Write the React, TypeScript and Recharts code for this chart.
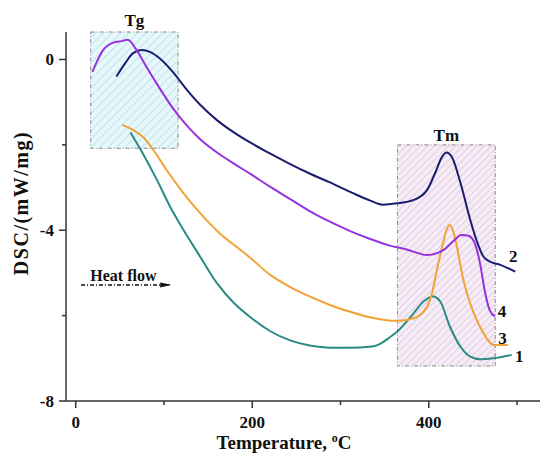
import React from 'react';
import {
  LineChart,
  Line,
  XAxis,
  YAxis,
  ReferenceArea,
  ReferenceLine,
  ReferenceDot,
  Label,
} from 'recharts';

// --- data (temperature °C, DSC mW/mg) ---
const curve1 = [
  [62, -1.71], [76, -2.2], [92, -2.82], [107, -3.45], [122, -3.99], [141, -4.62],
  [160, -5.24], [179, -5.7], [198, -6.04], [220, -6.36], [243, -6.58], [265, -6.7],
  [288, -6.75], [311, -6.75], [333, -6.73], [345, -6.66], [355, -6.52], [364, -6.38],
  [383, -5.94], [394, -5.67], [405, -5.55], [413, -5.67], [424, -6.26], [436, -6.73],
  [447, -6.96], [458, -7.02], [473, -7.0], [494, -6.92],
];
const curve2 = [
  [46, -0.4], [56, -0.09], [65, 0.15], [75, 0.22], [84, 0.18], [95, 0.03],
  [110, -0.29], [126, -0.71], [141, -1.06], [160, -1.42], [180, -1.72], [198, -1.95],
  [220, -2.2], [243, -2.45], [265, -2.67], [288, -2.88], [311, -3.1], [333, -3.3],
  [348, -3.4], [364, -3.37], [383, -3.29], [398, -3.06], [407, -2.67], [415, -2.28],
  [420, -2.18], [426, -2.28], [436, -2.9], [447, -3.76], [454, -4.23], [462, -4.62],
  [470, -4.74], [481, -4.81], [498, -4.97],
];
const curve3 = [
  [53, -1.53], [65, -1.65], [76, -1.81], [88, -2.12], [103, -2.59], [122, -3.13],
  [141, -3.6], [163, -4.07], [186, -4.45], [198, -4.65], [220, -5.04], [243, -5.33],
  [265, -5.55], [288, -5.75], [311, -5.91], [333, -6.04], [350, -6.1], [364, -6.12],
  [383, -6.06], [398, -5.79], [404, -5.45], [409, -4.95], [415, -4.4], [420, -4.0],
  [424, -3.88], [428, -4.05], [432, -4.4], [439, -5.15], [451, -5.94], [462, -6.41],
  [468, -6.6], [474, -6.69], [490, -6.69],
];
const curve4 = [
  [19, -0.29], [24, -0.05], [31, 0.22], [42, 0.39], [52, 0.43], [59, 0.46],
  [69, 0.22], [80, -0.17], [95, -0.67], [110, -1.14], [126, -1.55], [141, -1.87],
  [163, -2.22], [180, -2.45], [198, -2.68], [220, -2.98], [243, -3.27], [265, -3.55],
  [288, -3.8], [311, -4.02], [333, -4.2], [356, -4.36], [375, -4.45], [398, -4.58],
  [417, -4.46], [428, -4.25], [437, -4.11], [445, -4.13], [452, -4.3], [458, -4.77],
  [464, -5.48], [469, -5.87], [475, -6.02],
];

const X_TICKS = [0, 100, 200, 300, 400, 500];
const X_LABELED = [0, 200, 400];
const Y_TICKS = [-8, -6, -4, -2, 0];
const Y_LABELED = [-8, -4, 0];

// shaded regions: Tg and Tm
const TG_RANGE = { x1: 17, x2: 116, y1: -2.08, y2: 0.644 };
const TM_RANGE = { x1: 364.5, x2: 475.3, y1: -7.18, y2: -2.0 };

// curve numbers next to the curve ends
const CURVE_LABELS = [
  { name: '1', t: 502.5, v: -6.94 },
  { name: '2', t: 495.7, v: -4.6 },
  { name: '3', t: 483.6, v: -6.53 },
  { name: '4', t: 482.9, v: -5.89 },
];

const toRows = (pts: number[][]) => pts.map(([t, v]) => ({ t, v }));

const SERIES = [
  { id: '1', data: toRows(curve1), color: '#2a8a84' },
  { id: '2', data: toRows(curve2), color: '#1c1c6e' },
  { id: '3', data: toRows(curve3), color: '#f2a235' },
  { id: '4', data: toRows(curve4), color: '#9632de' },
];

const FONT = '"Liberation Serif", "Times New Roman", serif';
const AXIS_COLOR = '#333';

const XTick = (props: any) => {
  const { x, y, payload } = props;
  const major = X_LABELED.includes(payload.value);
  return (
    <g>
      <line x1={x} y1={y} x2={x} y2={y + (major ? 7 : 4)} stroke={AXIS_COLOR} strokeWidth={1.5} />
      {major && (
        <text x={x} y={y + 27} textAnchor="middle" fontFamily={FONT} fontWeight="bold" fontSize={17} fill="#111">
          {payload.value}
        </text>
      )}
    </g>
  );
};

const YTick = (props: any) => {
  const { x, y, payload } = props;
  const major = Y_LABELED.includes(payload.value);
  return (
    <g>
      <line x1={x - (major ? 7 : 4)} y1={y} x2={x} y2={y} stroke={AXIS_COLOR} strokeWidth={1.5} />
      {major && (
        <text x={x - 12} y={y + 6} textAnchor="end" fontFamily={FONT} fontWeight="bold" fontSize={17} fill="#111">
          {payload.value}
        </text>
      )}
    </g>
  );
};

const XTitle = ({ viewBox }: any) => (
  <text x={viewBox.x + 218} y={viewBox.y + 48} textAnchor="middle" fontFamily={FONT} fontWeight="bold" fontSize={19} fill="#111">
    <tspan>Temperature, </tspan>
    <tspan dy={-7} fontSize={12}>o</tspan>
    <tspan dy={7}>C</tspan>
  </text>
);

const YTitle = ({ viewBox }: any) => {
  const cx = 21;
  const cy = viewBox.y + 171;
  return (
    <text
      x={cx}
      y={cy}
      transform={`rotate(-90 ${cx} ${cy})`}
      textAnchor="middle"
      dominantBaseline="central"
      fontFamily={FONT}
      fontWeight="bold"
      fontSize={20}
      letterSpacing={1.5}
      fill="#111"
    >
      DSC/(mW/mg)
    </text>
  );
};

const labelStyle = { fontFamily: FONT, fontWeight: 'bold', fill: '#111' };

export default function App() {
  return (
    <div style={{ position: 'absolute', left: 0, top: 0, width: 540, height: 454, background: '#fff' }}>
      <LineChart width={540} height={454} margin={{ top: 32, right: 0, bottom: 0, left: 0 }}>
        <defs>
          <pattern id="hatchTg" patternUnits="userSpaceOnUse" width="6" height="6" patternTransform="rotate(45)">
            <rect width="6" height="6" fill="#e8f8fa" />
            <line x1="0" y1="0" x2="0" y2="6" stroke="#a6dfe9" strokeWidth="1.4" />
          </pattern>
          <pattern id="hatchTm" patternUnits="userSpaceOnUse" width="5" height="5" patternTransform="rotate(45)">
            <rect width="5" height="5" fill="#f6ecf6" />
            <line x1="0" y1="0" x2="0" y2="5" stroke="#d9bcd9" strokeWidth="1.3" />
          </pattern>
          <marker id="arrowHead" markerWidth="11" markerHeight="6" refX="10" refY="3" orient="auto" markerUnits="userSpaceOnUse">
            <path d="M0,0.5 L11,3 L0,5.5 z" fill="#111" />
          </marker>
        </defs>

        <XAxis
          dataKey="t"
          type="number"
          domain={[-11, 526]}
          ticks={X_TICKS}
          allowDataOverflow
          height={53}
          axisLine={{ stroke: AXIS_COLOR, strokeWidth: 1.5 }}
          tickLine={false}
          tickSize={0}
          tickMargin={0}
          tick={<XTick />}
          interval={0}
        >
          <Label content={<XTitle />} />
        </XAxis>
        <YAxis
          dataKey="v"
          type="number"
          domain={[-8, 0.644]}
          ticks={Y_TICKS}
          allowDataOverflow
          width={66}
          axisLine={{ stroke: AXIS_COLOR, strokeWidth: 1.5 }}
          tickLine={false}
          tickSize={0}
          tickMargin={0}
          tick={<YTick />}
          interval={0}
        >
          <Label content={<YTitle />} />
        </YAxis>

        <ReferenceArea
          {...TG_RANGE}
          fill="url(#hatchTg)"
          fillOpacity={1}
          stroke="#888"
          strokeWidth={1}
          strokeDasharray="4 2 1 2"
        >
          <Label value="Tg" position="top" offset={6} fontSize={17} {...labelStyle} />
        </ReferenceArea>
        <ReferenceArea
          {...TM_RANGE}
          fill="url(#hatchTm)"
          fillOpacity={1}
          stroke="#888"
          strokeWidth={1}
          strokeDasharray="4 2 1 2"
        >
          <Label value="Tm" position="top" offset={4} fontSize={17} {...labelStyle} />
        </ReferenceArea>

        {/* heat flow arrow */}
        <ReferenceLine
          segment={[{ x: 6, y: -5.28 }, { x: 107, y: -5.28 }]}
          shape={(p: any) => (
            <line
              x1={p.x1}
              y1={p.y1}
              x2={p.x2}
              y2={p.y2}
              stroke="#111"
              strokeWidth={1.5}
              strokeDasharray="4 2 1 2"
              markerEnd="url(#arrowHead)"
            />
          )}
        />
        <ReferenceDot x={54} y={-5.06} r={1} fill="none" stroke="none">
          <Label value="Heat flow" position="center" fontSize={16} {...labelStyle} />
        </ReferenceDot>

        {SERIES.map((s) => (
          <Line
            key={s.id}
            data={s.data}
            dataKey="v"
            type="monotone"
            stroke={s.color}
            strokeWidth={2}
            dot={false}
            activeDot={false}
            isAnimationActive={false}
          />
        ))}

        {CURVE_LABELS.map((c) => (
          <ReferenceDot key={c.name} x={c.t} y={c.v} r={1} fill="none" stroke="none">
            <Label value={c.name} position="center" fontSize={17} {...labelStyle} />
          </ReferenceDot>
        ))}
      </LineChart>
    </div>
  );
}
